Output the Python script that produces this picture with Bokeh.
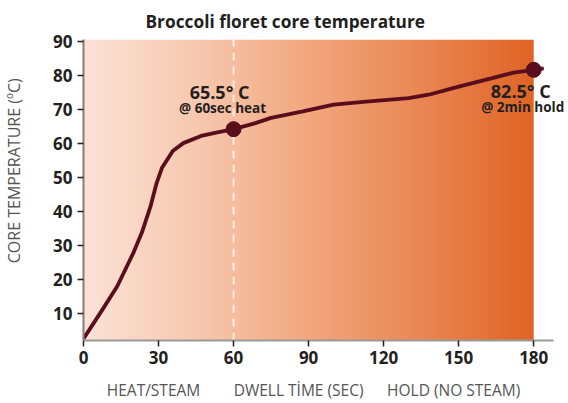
import numpy as np
from bokeh.plotting import figure
from bokeh.models import Label, FixedTicker, Range1d, LinearAxis
from bokeh.embed import file_html
from bokeh.resources import INLINE

# ---- data ----
time_sec = [0, 7, 13.5, 20, 23.3, 26.7, 29.2, 31.4, 35.7, 39.9, 47, 54, 60,
            68.4, 75, 87.7, 100, 113, 130, 138, 150, 163, 172, 180, 184]
core_temp = [2.7, 10.6, 18.1, 28.0, 33.8, 41.3, 48.3, 52.9, 57.8, 60.1, 62.2, 63.3, 64.2,
             65.9, 67.5, 69.4, 71.4, 72.3, 73.3, 74.3, 76.7, 79.1, 80.8, 81.6, 82.0]
marker_time = [60, 180]
marker_temp = [64.2, 81.6]
marker_title = ["65.5° C", "82.5° C"]
marker_sub = ["@ 60sec heat", "@ 2min hold"]
phase_labels = ["HEAT/STEAM", "DWELL TİME (SEC)", "HOLD (NO STEAM)"]
phase_centers = [28, 86, 148]
y_title = "CORE TEMPERATURE (ºC)"
y_title_pos = 52
x_ticks = [0, 30, 60, 90, 120, 150, 180]
y_ticks = [10, 20, 30, 40, 50, 60, 70, 80, 90]
dwell_start = 60
hold_end = 180

X0, X1 = 0, 193.9
Y0, Y1 = 2.2, 90.5

LINE = "#5a0d1c"
FONT = "Open Sans"
DARK = "#231f20"
GREY = "#555555"

p = figure(width=568, height=403, output_backend="svg", toolbar_location=None,
           x_range=Range1d(X0, X1), y_range=Range1d(Y0, Y1),
           min_border_left=80, min_border_right=0, min_border_top=37, min_border_bottom=61,
           background_fill_color="white", border_fill_color="white")
p.outline_line_color = None
p.grid.visible = False

# title
p.title.text = "Broccoli floret core temperature"
p.title.align = "left"
p.title.offset = 62
p.title.text_font = FONT
p.title.text_font_size = "17.3px"
p.title.text_font_style = "bold"
p.title.text_color = DARK
p.title.standoff = 14

# gradient background
stops = np.array([[251, 226, 214], [247, 200, 175], [242, 167, 126], [234, 134, 83], [223, 100, 38]], dtype=float)
n = 360
t = np.linspace(0, 1, n)
cols = np.stack([np.interp(t, np.linspace(0, 1, len(stops)), stops[:, k]) for k in range(3)], axis=1)
img = np.zeros((1, n), dtype=np.uint32)
view = img.view(dtype=np.uint8).reshape((1, n, 4))
view[0, :, 0:3] = np.round(cols).astype(np.uint8)
view[0, :, 3] = 255
p.image_rgba(image=[img], x=0, y=Y0, dw=hold_end, dh=Y1 - Y0)

# dashed divider
p.segment(x0=[dwell_start], y0=[Y0], x1=[dwell_start], y1=[Y1],
          line_color="white", line_alpha=0.75, line_width=2, line_dash="8 6")

# curve
p.line(time_sec, core_temp, line_color=LINE, line_width=3.8)
p.scatter(marker_time, marker_temp, size=15, color=LINE)

# annotations
title_offsets = [(-14, 37), (-13, -21)]
sub_offsets = [(-11, 21), (-11, -37)]
for i in range(2):
    p.add_layout(Label(x=marker_time[i], y=marker_temp[i], text=marker_title[i],
                       x_offset=title_offsets[i][0], y_offset=title_offsets[i][1],
                       text_align="center", text_baseline="alphabetic",
                       text_font=FONT, text_font_size="18px", text_font_style="bold",
                       text_color=DARK))
    p.add_layout(Label(x=marker_time[i], y=marker_temp[i], text=marker_sub[i],
                       x_offset=sub_offsets[i][0], y_offset=sub_offsets[i][1],
                       text_align="center", text_baseline="alphabetic",
                       text_font=FONT, text_font_size="13.5px", text_font_style="bold",
                       text_color=DARK))

# main axes
for ax in (p.xaxis[0], p.yaxis[0]):
    ax.major_tick_out = 6
    ax.major_tick_in = 0
    ax.minor_tick_line_color = None
    ax.major_tick_line_color = DARK
    ax.major_tick_line_width = 1.5
    ax.major_label_text_font = FONT
    ax.major_label_text_font_size = "17px"
    ax.major_label_text_font_style = "bold"
    ax.major_label_text_color = DARK

p.xaxis.major_label_standoff = 4
p.yaxis.major_label_standoff = 5
p.xaxis.ticker = FixedTicker(ticks=x_ticks)
p.yaxis.ticker = FixedTicker(ticks=y_ticks)
p.xaxis.axis_line_color = "#9a9a9a"
p.xaxis.axis_line_width = 2
p.xaxis.bounds = (0, 188)
p.yaxis.axis_line_color = "#8c7b76"
p.yaxis.axis_line_width = 2

# y axis title (as a label-only axis)
y_title_axis = LinearAxis(ticker=FixedTicker(ticks=[y_title_pos]),
                          major_label_overrides={y_title_pos: y_title},
                          major_label_orientation="vertical",
                          axis_line_color=None, major_tick_line_color=None,
                          minor_tick_line_color=None, major_label_standoff=19,
                          major_label_text_font=FONT, major_label_text_font_size="16px",
                          major_label_text_color=GREY)
p.add_layout(y_title_axis, "left")

# phase labels below the axis (as a label-only axis)
phase_axis = LinearAxis(ticker=FixedTicker(ticks=phase_centers),
                        major_label_overrides={c: l for c, l in zip(phase_centers, phase_labels)},
                        axis_line_color=None, major_tick_line_color=None,
                        minor_tick_line_color=None, major_label_standoff=6,
                        major_label_text_font=FONT, major_label_text_font_size="15.5px",
                        major_label_text_color=GREY)
p.add_layout(phase_axis, "below")

open("out.html", "w").write(file_html(p, INLINE))
